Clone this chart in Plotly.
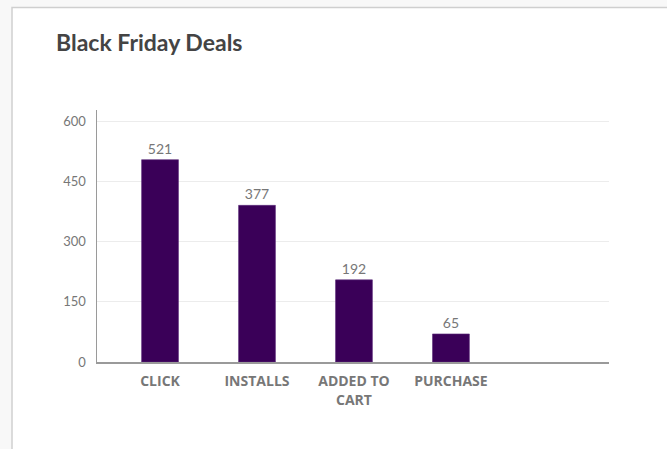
import plotly.graph_objects as go

categories = ["CLICK", "INSTALLS", "ADDED TO<br>CART", "PURCHASE", " "]
bar_values = [505, 391, 205, 70, None]
label_texts = ["521", "377", "192", "65", ""]
y_ticks = [0, 150, 300, 450, 600]

W, H = 667, 449
L, R, T, B = 97, 58, 110, 87
pw, ph = W - L - R, H - T - B

def px(x):
    return (x - L) / pw

def py(y):
    return (H - B - y) / ph

fig = go.Figure()
fig.add_trace(go.Bar(
    x=list(range(len(categories))),
    y=bar_values,
    width=0.38,
    marker=dict(color="#3a0058", line=dict(color="#5a2a78", width=0.6)),
    text=label_texts,
    textposition="outside",
    textfont=dict(family="Lato, sans-serif", size=14, color="#777777"),
    cliponaxis=False,
    hoverinfo="skip",
))

fig.update_layout(
    width=W, height=H,
    margin=dict(l=L, r=R, t=T, b=B, pad=0),
    paper_bgcolor="#f8f8f8",
    plot_bgcolor="rgba(0,0,0,0)",
    showlegend=False,
    font=dict(family="Lato, sans-serif"),
    xaxis=dict(
        tickmode="array",
        tickvals=list(range(len(categories))),
        ticktext=categories,
        range=[-0.65, 4.63],
        showgrid=False,
        showline=True, linecolor="#9a9a9a", linewidth=1.5,
        ticks="",
        ticklabelstandoff=6,
        tickfont=dict(family="Open Sans, sans-serif", size=14, color="#777777", weight="bold"),
        zeroline=False,
        fixedrange=True,
    ),
    yaxis=dict(
        range=[0, 629],
        tickvals=y_ticks,
        showgrid=True, gridcolor="#ececec", gridwidth=1,
        showline=True, linecolor="#9a9a9a", linewidth=1.5,
        ticks="",
        ticklabelstandoff=7,
        tickfont=dict(family="Lato, sans-serif", size=13, color="#777777"),
        zeroline=False,
        fixedrange=True,
    ),
    shapes=[dict(
        type="rect", xref="paper", yref="paper", layer="below",
        x0=px(12), x1=px(W + 5), y0=py(H + 5), y1=py(7.5),
        fillcolor="#ffffff", line=dict(color="#cfcfcf", width=1.5),
    )],
    annotations=[dict(
        text="<b>Black Friday Deals</b>", xref="paper", yref="paper",
        x=px(54), y=py(41.5), xanchor="left", yanchor="middle",
        showarrow=False,
        font=dict(family="Lato, sans-serif", size=23, color="#444444"),
    )],
)

fig.write_html(
    "out.html",
    config={"displayModeBar": False, "staticPlot": True},
    post_script="document.body.style.margin='0';document.body.style.background='#f8f8f8';document.body.style.overflow='hidden';",
)
